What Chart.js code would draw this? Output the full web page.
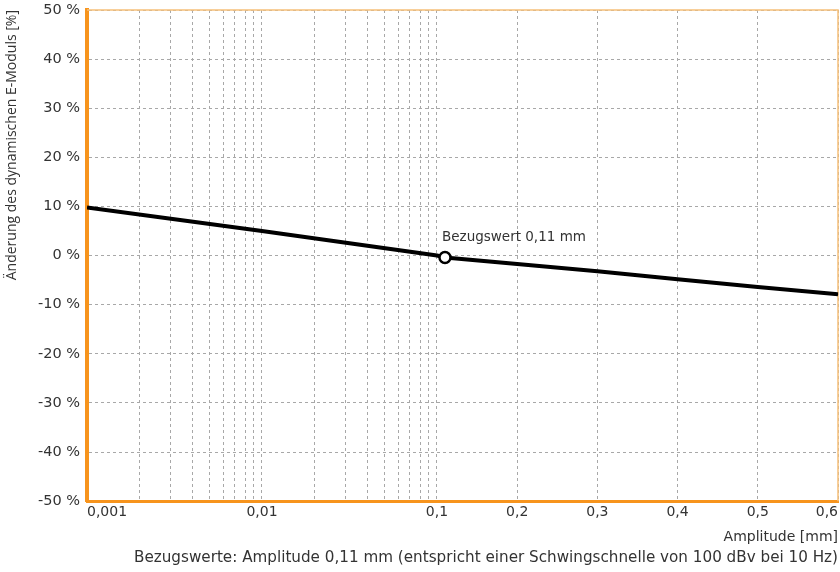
<!DOCTYPE html>
<html lang="de">
<head>
<meta charset="utf-8">
<title>Änderung des dynamischen E-Moduls</title>
<script src="https://cdn.jsdelivr.net/npm/chart.js@4.4.1/dist/chart.umd.min.js"></script>
<style>
  html, body { margin: 0; padding: 0; background: #ffffff; }
  #wrap { width: 840px; height: 572px; position: relative; }
</style>
</head>
<body>
<div id="wrap"><canvas id="chart" width="840" height="572"></canvas></div>
<script>
// Amplitude [mm] and change of the dynamic modulus [%]
const amplitude = [0.001, 0.01, 0.1, 0.11, 0.2, 0.3, 0.4, 0.5, 0.6];
const modulusChange = [9.8, 5.0, 0.0, -0.4, -1.7, -3.2, -4.8, -6.4, -7.9];

// Reference point
const refAmplitude = [0.11];
const refChange = [-0.4];
const refLabel = 'Bezugswert 0,11 mm';

// Axis ticks: logarithmic up to 0.1 mm, linear above
const xTickValues = [
  0.001, 0.002, 0.003, 0.004, 0.005, 0.006, 0.007, 0.008, 0.009,
  0.01, 0.02, 0.03, 0.04, 0.05, 0.06, 0.07, 0.08, 0.09,
  0.1, 0.2, 0.3, 0.4, 0.5, 0.6
];
const xLabelValues = [0.001, 0.01, 0.1, 0.2, 0.3, 0.4, 0.5, 0.6];
const yTickValues = [-50, -40, -30, -20, -10, 0, 10, 20, 30, 40, 50];

const X_MIN = 0.001, X_BREAK = 0.1, X_MAX = 0.6;
const LOG_SHARE = 0.466; // share of the axis width taken by the log part

const ORANGE = '#f7941d';
const TEXT = '#333333';
const FONT = 'DejaVu Sans';

// Scale that is logarithmic below X_BREAK and linear above it
class LogLinearScale extends Chart.LinearScale {
  buildTicks() {
    return xTickValues.map(v => ({ value: v }));
  }
  _toDecimal(v) {
    if (v <= X_BREAK) {
      const l0 = Math.log10(X_MIN), l1 = Math.log10(X_BREAK);
      return (Math.log10(v) - l0) / (l1 - l0) * LOG_SHARE;
    }
    return LOG_SHARE + (v - X_BREAK) / (X_MAX - X_BREAK) * (1 - LOG_SHARE);
  }
  getPixelForValue(value) {
    return this.getPixelForDecimal(this._toDecimal(value));
  }
  getValueForPixel(pixel) {
    const d = this.getDecimalForPixel(pixel);
    if (d <= LOG_SHARE) {
      const l0 = Math.log10(X_MIN), l1 = Math.log10(X_BREAK);
      return Math.pow(10, l0 + d / LOG_SHARE * (l1 - l0));
    }
    return X_BREAK + (d - LOG_SHARE) / (1 - LOG_SHARE) * (X_MAX - X_BREAK);
  }
}
LogLinearScale.id = 'logLinear';
LogLinearScale.defaults = Chart.LinearScale.defaults;
Chart.register(LogLinearScale);

// Thin top/right frame of the plot area and the reference label
const framePlugin = {
  id: 'frame',
  beforeDatasetsDraw(chart) {
    const { ctx, chartArea: a } = chart;
    ctx.save();
    ctx.strokeStyle = '#f6c07a';
    ctx.lineWidth = 1.5;
    ctx.beginPath();
    ctx.moveTo(a.left, a.top);
    ctx.lineTo(a.right, a.top);
    ctx.lineTo(a.right, a.bottom);
    ctx.stroke();
    ctx.restore();
  },
  afterDatasetsDraw(chart) {
    const { ctx, scales } = chart;
    const px = scales.x.getPixelForValue(refAmplitude[0]);
    const py = scales.y.getPixelForValue(refChange[0]);
    ctx.save();
    ctx.fillStyle = TEXT;
    ctx.font = '13.5px "' + FONT + '"';
    ctx.textAlign = 'left';
    ctx.textBaseline = 'middle';
    ctx.fillText(refLabel, px - 3, py - 20);
    ctx.restore();
  }
};

const fmt = v => String(v).replace('.', ',');

new Chart(document.getElementById('chart'), {
  type: 'line',
  data: {
    datasets: [
      {
        data: refAmplitude.map((x, i) => ({ x, y: refChange[i] })),
        borderColor: '#000000',
        backgroundColor: '#ffffff',
        pointRadius: 5.5,
        pointBorderWidth: 2.5,
        pointBackgroundColor: '#ffffff',
        pointBorderColor: '#000000',
        showLine: false,
        order: 0
      },
      {
        data: amplitude.map((x, i) => ({ x, y: modulusChange[i] })),
        borderColor: '#000000',
        borderWidth: 4,
        pointRadius: 0,
        tension: 0,
        fill: false,
        order: 1
      }
    ]
  },
  plugins: [framePlugin],
  options: {
    responsive: false,
    animation: false,
    events: [],
    layout: { autoPadding: false, padding: { top: 10, right: 2, left: 0, bottom: 0 } },
    plugins: {
      legend: { display: false },
      tooltip: { enabled: false },
      title: {
        display: true,
        position: 'bottom',
        align: 'end',
        text: 'Bezugswerte: Amplitude 0,11 mm (entspricht einer Schwingschnelle von 100 dBv bei 10 Hz)',
        color: TEXT,
        font: { family: FONT, size: 15.2, weight: 'normal' },
        padding: { top: 3, bottom: 5 }
      }
    },
    scales: {
      x: {
        type: 'logLinear',
        min: X_MIN,
        max: X_MAX,
        afterFit: s => { s.paddingLeft = 0; s.paddingRight = 0; },
        grid: { color: '#a8a8a8', lineWidth: 1, drawTicks: false },
        border: { color: ORANGE, width: 3, dash: [3, 3] },
        ticks: {
          autoSkip: false,
          maxRotation: 0,
          align: 'inner',
          padding: 3,
          color: TEXT,
          font: { family: FONT, size: 14 },
          callback: v => xLabelValues.includes(v) ? fmt(v) : ''
        },
        title: {
          display: true,
          text: 'Amplitude [mm]',
          align: 'end',
          color: TEXT,
          font: { family: FONT, size: 14 },
          padding: { top: 5, bottom: 0 }
        }
      },
      y: {
        type: 'linear',
        min: -50,
        max: 50,
        afterBuildTicks: s => { s.ticks = yTickValues.map(v => ({ value: v })); },
        afterFit: s => { s.width = 87; s.paddingTop = 0; s.paddingBottom = 0; },
        grid: { color: '#a8a8a8', lineWidth: 1, drawTicks: false },
        border: { color: ORANGE, width: 4, dash: [3, 3] },
        ticks: {
          padding: 7,
          color: TEXT,
          font: { family: FONT, size: 14.5 },
          callback: v => v + ' %'
        },
        title: {
          display: true,
          text: 'Änderung des dynamischen E-Moduls [%]',
          align: 'end',
          color: TEXT,
          font: { family: 'Open Sans', size: 14 },
          padding: { top: 4, bottom: 0 }
        }
      }
    }
  }
});
</script>
</body>
</html>
